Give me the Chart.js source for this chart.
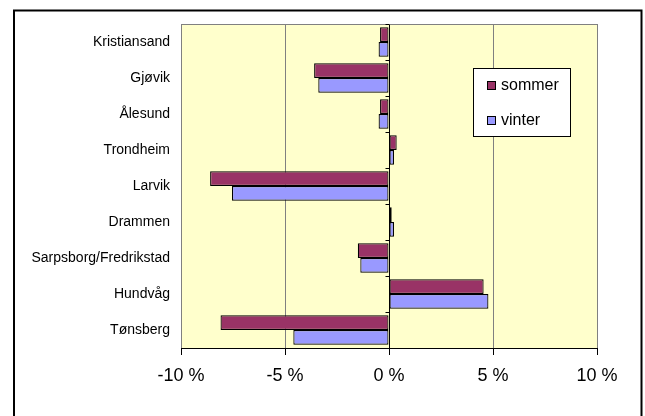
<!DOCTYPE html>
<html>
<head>
<meta charset="utf-8">
<script src="https://cdn.jsdelivr.net/npm/chart.js@4/dist/chart.umd.min.js"></script>
<style>
body { margin: 0; background: #fff; }
canvas { display: block; }
</style>
</head>
<body>
<canvas id="barChart" width="645" height="416"></canvas>
<script>
// data
var cities = ["Kristiansand", "Gjøvik", "Ålesund", "Trondheim", "Larvik", "Drammen", "Sarpsborg/Fredrikstad", "Hundvåg", "Tønsberg"];
var sommer = [-0.43, -3.6, -0.43, 0.37, -8.6, 0.13, -1.5, 4.55, -8.1];
var vinter = [-0.5, -3.4, -0.5, 0.24, -7.55, 0.24, -1.38, 4.78, -4.6];
var xTicks = [-10, -5, 0, 5, 10];

var fontFam = "'Liberation Sans', Arial, sans-serif";

// yellow plot area, top border, ticks on the zero axis, outer frame, legend box
var framePlugin = {
    id: 'frame',
    beforeDraw: function (chart) {
        var c = chart.ctx, a = chart.chartArea;
        c.save();
        c.fillStyle = '#FFFFCC';
        c.fillRect(a.left, a.top, a.right - a.left, a.bottom - a.top);
        c.restore();
    },
    afterDraw: function (chart) {
        var c = chart.ctx, a = chart.chartArea;
        var xs = chart.scales.x;
        c.save();
        c.strokeStyle = '#808080';
        c.lineWidth = 1;
        c.beginPath();
        c.moveTo(a.left, a.top + 0.5);
        c.lineTo(a.right, a.top + 0.5);
        c.stroke();

        // small tick marks on the zero line between categories
        var x0 = Math.round(xs.getPixelForValue(0)) + 0.5;
        var step = (a.bottom - a.top) / cities.length;
        c.strokeStyle = '#000';
        c.beginPath();
        for (var i = 0; i <= cities.length; i++) {
            var y = Math.round(a.top + i * step) + 0.5;
            c.moveTo(x0 - 4, y);
            c.lineTo(x0, y);
        }
        c.stroke();

        // outer frame
        c.lineWidth = 2;
        c.strokeStyle = '#000';
        c.strokeRect(14, 10.5, 627.5, 430);

        // legend
        c.lineWidth = 1;
        c.fillStyle = '#fff';
        c.fillRect(473.5, 68.5, 97, 68);
        c.strokeRect(473.5, 68.5, 97, 68);
        var rows = [86, 121];
        chart.data.datasets.forEach(function (ds, k) {
            c.fillStyle = ds.backgroundColor;
            c.fillRect(487.5, rows[k] - 4.5, 8, 8);
            c.strokeStyle = '#000';
            c.strokeRect(487.5, rows[k] - 4.5, 8, 8);
            c.fillStyle = '#000';
            c.font = '16px ' + fontFam;
            c.textBaseline = 'middle';
            c.fillText(ds.label, 501, rows[k]);
        });
        c.restore();
    }
};

var barData = {
    labels: cities,
    datasets: [
        {
            label: "sommer",
            backgroundColor: '#993366',
            borderColor: '#000',
            borderWidth: 1.2,
            borderSkipped: false,
            data: sommer
        },
        {
            label: "vinter",
            backgroundColor: '#9999FF',
            borderColor: '#000',
            borderWidth: 1.2,
            borderSkipped: false,
            data: vinter
        }
    ]
};

var barOptions = {
    indexAxis: 'y',
    responsive: false,
    animation: false,
    categoryPercentage: 0.82,
    barPercentage: 1,
    layout: { padding: { left: 14, top: 24, right: 48, bottom: 0 } },
    plugins: {
        legend: { display: false },
        tooltip: { enabled: false }
    },
    scales: {
        x: {
            min: -10,
            max: 10,
            afterBuildTicks: function (scale) {
                scale.ticks = xTicks.map(function (v) { return { value: v }; });
            },
            afterFit: function (scale) { scale.height = 68; },
            grid: {
                color: function (ctx) { return ctx.tick && ctx.tick.value === 0 ? '#000' : '#808080'; },
                tickColor: '#000',
                tickLength: 7
            },
            border: { color: '#000' },
            ticks: {
                padding: 10,
                color: '#000',
                font: { family: fontFam, size: 18 },
                callback: function (v) { return v + ' %'; }
            }
        },
        y: {
            afterFit: function (scale) { scale.width = 167; },
            grid: { display: false, drawTicks: false },
            border: { display: false },
            ticks: {
                padding: 11,
                color: '#000',
                font: { family: fontFam, size: 14 }
            }
        }
    }
};

var ctx2 = document.getElementById("barChart").getContext("2d");
new Chart(ctx2, { type: 'bar', data: barData, options: barOptions, plugins: [framePlugin] });
</script>
</body>
</html>
